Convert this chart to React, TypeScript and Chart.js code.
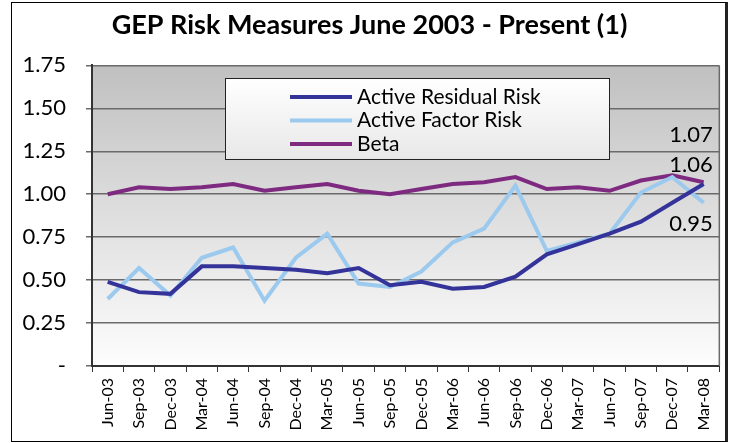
import React, { useEffect, useRef } from "react";
import { Chart, registerables } from "chart.js";

Chart.register(...registerables);

const titleText = "GEP Risk Measures June 2003 - Present (1)";

const categories = [
  "Jun-03", "Sep-03", "Dec-03", "Mar-04", "Jun-04", "Sep-04", "Dec-04",
  "Mar-05", "Jun-05", "Sep-05", "Dec-05", "Mar-06", "Jun-06", "Sep-06",
  "Dec-06", "Mar-07", "Jun-07", "Sep-07", "Dec-07", "Mar-08",
];

const residualRisk = [
  0.49, 0.43, 0.42, 0.58, 0.58, 0.57, 0.56, 0.54, 0.57, 0.47,
  0.49, 0.45, 0.46, 0.52, 0.65, 0.71, 0.77, 0.84, 0.95, 1.06,
];

const factorRisk = [
  0.39, 0.57, 0.41, 0.63, 0.69, 0.38, 0.63, 0.77, 0.48, 0.46,
  0.55, 0.72, 0.80, 1.05, 0.67, 0.72, 0.77, 1.01, 1.10, 0.95,
];

const beta = [
  1.00, 1.04, 1.03, 1.04, 1.06, 1.02, 1.04, 1.06, 1.02, 1.00,
  1.03, 1.06, 1.07, 1.10, 1.03, 1.04, 1.02, 1.08, 1.11, 1.07,
];

const yTicks = [0, 0.25, 0.5, 0.75, 1.0, 1.25, 1.5, 1.75];

const seriesNames = ["Active Residual Risk", "Active Factor Risk", "Beta"];
const seriesColors = ["#333399", "#9cc9ee", "#7e2a80"];
// vertical offset (px) of the end-value label relative to the last point
const endLabelOffsets = [-19, 21, -47];

const FONT = "Lato, 'Open Sans', sans-serif";

const plotBackground = {
  id: "plotBackground",
  beforeDraw(chart: any) {
    const { ctx, chartArea } = chart;
    if (!chartArea) return;
    const g = ctx.createLinearGradient(0, chartArea.top, 0, chartArea.bottom);
    g.addColorStop(0, "#c0c0c0");
    g.addColorStop(1, "#fdfdfd");
    ctx.save();
    ctx.fillStyle = g;
    ctx.fillRect(chartArea.left, chartArea.top, chartArea.right - chartArea.left, chartArea.bottom - chartArea.top);
    ctx.restore();
  },
  afterDatasetsDraw(chart: any) {
    const { ctx, chartArea } = chart;
    ctx.save();
    ctx.strokeStyle = "#6a6a6a";
    ctx.lineWidth = 1.5;
    ctx.beginPath();
    ctx.moveTo(chartArea.right, chartArea.top);
    ctx.lineTo(chartArea.right, chartArea.bottom);
    ctx.stroke();
    ctx.restore();
  },
};

const endLabels = {
  id: "endLabels",
  afterDatasetsDraw(chart: any) {
    const { ctx } = chart;
    ctx.save();
    ctx.font = `22px ${FONT}`;
    ctx.fillStyle = "#000";
    ctx.textAlign = "right";
    ctx.textBaseline = "middle";
    chart.data.datasets.forEach((ds: any, i: number) => {
      const meta = chart.getDatasetMeta(i);
      const last = meta.data[meta.data.length - 1];
      const v = ds.data[ds.data.length - 1];
      ctx.fillText(v.toFixed(2), last.x + 9, last.y + endLabelOffsets[i]);
    });
    ctx.restore();
  },
};

const boxLegend = {
  id: "boxLegend",
  afterDraw(chart: any) {
    const { ctx } = chart;
    const x = 225, y = 78, w = 384, h = 81;
    ctx.save();
    const g = ctx.createLinearGradient(0, y, 0, y + h);
    g.addColorStop(0, "#ffffff");
    g.addColorStop(1, "#e8e8e8");
    ctx.fillStyle = g;
    ctx.fillRect(x, y, w, h);
    ctx.strokeStyle = "#222";
    ctx.lineWidth = 1;
    ctx.strokeRect(x + 0.5, y + 0.5, w, h);
    ctx.font = `21px ${FONT}`;
    ctx.fillStyle = "#000";
    ctx.textAlign = "left";
    ctx.textBaseline = "middle";
    seriesNames.forEach((name, i) => {
      const ry = y + 19 + i * 23.5;
      ctx.strokeStyle = seriesColors[i];
      ctx.lineWidth = 4;
      ctx.beginPath();
      ctx.moveTo(x + 65, ry);
      ctx.lineTo(x + 127, ry);
      ctx.stroke();
      ctx.fillText(name, x + 132, ry);
    });
    ctx.restore();
  },
};

export default function App() {
  const ref = useRef<HTMLCanvasElement | null>(null);

  useEffect(() => {
    if (!ref.current) return;
    const series = [residualRisk, factorRisk, beta];
    const chart = new Chart(ref.current, {
      type: "line",
      data: {
        labels: categories,
        datasets: series.map((d, i) => ({
          label: seriesNames[i],
          data: d,
          borderColor: seriesColors[i],
          backgroundColor: seriesColors[i],
          borderWidth: 4,
          pointRadius: 0,
          tension: 0,
          fill: false,
        })),
      },
      options: {
        responsive: false,
        animation: false,
        layout: { padding: { top: 0, right: 6, bottom: 2, left: 16 } },
        plugins: {
          legend: { display: false },
          tooltip: { enabled: false },
          title: {
            display: true,
            text: titleText,
            color: "#000",
            font: { family: FONT, size: 27, weight: "bold" },
            padding: { top: 9, bottom: 24 },
          },
        },
        scales: {
          x: {
            type: "category",
            offset: true,
            grid: {
              offset: true,
              drawOnChartArea: false,
              drawTicks: true,
              tickLength: 6,
              color: "#333",
              lineWidth: 1,
            },
            border: { display: true, color: "#333", width: 2 },
            ticks: {
              autoSkip: false,
              minRotation: 90,
              maxRotation: 90,
              padding: 6,
              color: "#000",
              font: { family: FONT, size: 16 },
            },
            afterFit: (s: any) => {
              s.height = 75;
            },
          },
          y: {
            min: 0,
            max: 1.75,
            afterBuildTicks: (s: any) => {
              s.ticks = yTicks.map((v) => ({ value: v }));
            },
            ticks: {
              padding: 20,
              color: "#000",
              font: { family: FONT, size: 22 },
              callback: (v: any) => (Number(v) === 0 ? "-" : Number(v).toFixed(2)),
            },
            grid: { color: "#6a6a6a", lineWidth: 1.5, tickLength: 6, drawTicks: true },
            border: { display: true, color: "#333", width: 2 },
            afterFit: (s: any) => {
              s.width = 76;
            },
          },
        },
      },
      plugins: [plotBackground, endLabels, boxLegend],
    } as any);
    return () => chart.destroy();
  }, []);

  return (
    <div style={{ position: "fixed", left: 0, top: 0, width: 729, height: 443, background: "#fff", overflow: "hidden" }}>
      <div
        style={{
          position: "absolute",
          left: 11,
          top: 2,
          width: 713,
          height: 438,
          border: "1px solid #000",
          borderRight: "3px solid #222",
          boxSizing: "content-box",
        }}
      />
      <canvas ref={ref} width={729} height={443} style={{ position: "absolute", left: 0, top: 0 }} />
    </div>
  );
}
